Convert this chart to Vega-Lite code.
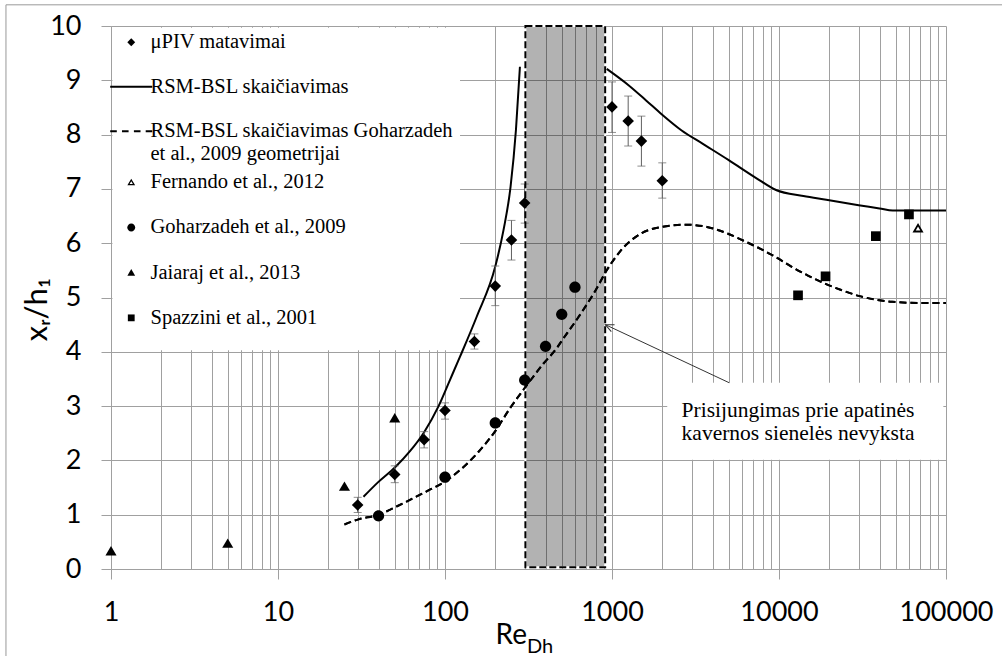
{
  "$schema": "https://vega.github.io/schema/vega-lite/v6.json",
  "width": 835,
  "height": 543,
  "autosize": {"type": "none"},
  "padding": {"left": 111, "top": 26, "right": 56, "bottom": 87},
  "background": "white",
  "config": {"view": {"stroke": null}, "font": "Lato"},
  "resolve": {"scale": {"shape": "independent"}, "legend": {"shape": "independent"}},
  "datasets": {
    "points": [
      {"series": "μPIV matavimai", "re": 30, "xr": 1.18, "lo": 1.04, "hi": 1.32},
      {"series": "μPIV matavimai", "re": 50, "xr": 1.74, "lo": 1.59, "hi": 1.90},
      {"series": "μPIV matavimai", "re": 75, "xr": 2.38, "lo": 2.23, "hi": 2.53},
      {"series": "μPIV matavimai", "re": 100, "xr": 2.92, "lo": 2.76, "hi": 3.06},
      {"series": "μPIV matavimai", "re": 150, "xr": 4.19, "lo": 4.05, "hi": 4.33},
      {"series": "μPIV matavimai", "re": 200, "xr": 5.21, "lo": 4.85, "hi": 5.58},
      {"series": "μPIV matavimai", "re": 250, "xr": 6.06, "lo": 5.69, "hi": 6.42},
      {"series": "μPIV matavimai", "re": 300, "xr": 6.74, "lo": 6.37, "hi": 7.09},
      {"series": "μPIV matavimai", "re": 1000, "xr": 8.51, "lo": 8.04, "hi": 8.97},
      {"series": "μPIV matavimai", "re": 1250, "xr": 8.25, "lo": 7.79, "hi": 8.71},
      {"series": "μPIV matavimai", "re": 1500, "xr": 7.88, "lo": 7.42, "hi": 8.34},
      {"series": "μPIV matavimai", "re": 2000, "xr": 7.15, "lo": 6.83, "hi": 7.48},
      {"series": "Goharzadeh et al., 2009", "re": 40, "xr": 0.98},
      {"series": "Goharzadeh et al., 2009", "re": 100, "xr": 1.69},
      {"series": "Goharzadeh et al., 2009", "re": 200, "xr": 2.69},
      {"series": "Goharzadeh et al., 2009", "re": 300, "xr": 3.48},
      {"series": "Goharzadeh et al., 2009", "re": 400, "xr": 4.10},
      {"series": "Goharzadeh et al., 2009", "re": 500, "xr": 4.69},
      {"series": "Goharzadeh et al., 2009", "re": 600, "xr": 5.19},
      {"series": "Jaiaraj et al., 2013", "re": 1, "xr": 0.33},
      {"series": "Jaiaraj et al., 2013", "re": 5, "xr": 0.47},
      {"series": "Jaiaraj et al., 2013", "re": 25, "xr": 1.52},
      {"series": "Jaiaraj et al., 2013", "re": 50, "xr": 2.78},
      {"series": "Spazzini et al., 2001", "re": 13000, "xr": 5.04},
      {"series": "Spazzini et al., 2001", "re": 19000, "xr": 5.39},
      {"series": "Spazzini et al., 2001", "re": 38000, "xr": 6.13},
      {"series": "Spazzini et al., 2001", "re": 60000, "xr": 6.53},
      {"series": "Fernando et al., 2012", "re": 68000, "xr": 6.28}
    ],
    "curves": [
      {"series": "solid", "seg": 1, "re": 32.5, "xr": 1.33},
      {"series": "solid", "seg": 1, "re": 39.8, "xr": 1.60},
      {"series": "solid", "seg": 1, "re": 50.1, "xr": 1.87},
      {"series": "solid", "seg": 1, "re": 61.7, "xr": 2.17},
      {"series": "solid", "seg": 1, "re": 75, "xr": 2.52},
      {"series": "solid", "seg": 1, "re": 91.2, "xr": 2.99},
      {"series": "solid", "seg": 1, "re": 107, "xr": 3.48},
      {"series": "solid", "seg": 1, "re": 123, "xr": 3.91},
      {"series": "solid", "seg": 1, "re": 155, "xr": 4.65},
      {"series": "solid", "seg": 1, "re": 200, "xr": 5.57},
      {"series": "solid", "seg": 1, "re": 224, "xr": 6.24},
      {"series": "solid", "seg": 1, "re": 247, "xr": 7.04},
      {"series": "solid", "seg": 1, "re": 266, "xr": 8.09},
      {"series": "solid", "seg": 1, "re": 281, "xr": 9.25},
      {"series": "solid", "seg": 2, "re": 930, "xr": 9.21},
      {"series": "solid", "seg": 2, "re": 1256, "xr": 8.91},
      {"series": "solid", "seg": 2, "re": 1600, "xr": 8.63},
      {"series": "solid", "seg": 2, "re": 1990, "xr": 8.37},
      {"series": "solid", "seg": 2, "re": 2600, "xr": 8.08},
      {"series": "solid", "seg": 2, "re": 3500, "xr": 7.83},
      {"series": "solid", "seg": 2, "re": 5000, "xr": 7.53},
      {"series": "solid", "seg": 2, "re": 7300, "xr": 7.20},
      {"series": "solid", "seg": 2, "re": 9600, "xr": 6.98},
      {"series": "solid", "seg": 2, "re": 14000, "xr": 6.87},
      {"series": "solid", "seg": 2, "re": 19200, "xr": 6.80},
      {"series": "solid", "seg": 2, "re": 30000, "xr": 6.70},
      {"series": "solid", "seg": 2, "re": 40000, "xr": 6.64},
      {"series": "solid", "seg": 2, "re": 48000, "xr": 6.60},
      {"series": "solid", "seg": 2, "re": 100000, "xr": 6.60},
      {"series": "dashed", "seg": 3, "re": 25, "xr": 0.82},
      {"series": "dashed", "seg": 3, "re": 30, "xr": 0.91},
      {"series": "dashed", "seg": 3, "re": 40, "xr": 1.00},
      {"series": "dashed", "seg": 3, "re": 52, "xr": 1.16},
      {"series": "dashed", "seg": 3, "re": 65, "xr": 1.31},
      {"series": "dashed", "seg": 3, "re": 81, "xr": 1.46},
      {"series": "dashed", "seg": 3, "re": 100, "xr": 1.61},
      {"series": "dashed", "seg": 3, "re": 126, "xr": 1.85},
      {"series": "dashed", "seg": 3, "re": 158, "xr": 2.15},
      {"series": "dashed", "seg": 3, "re": 200, "xr": 2.54},
      {"series": "dashed", "seg": 3, "re": 245, "xr": 2.96},
      {"series": "dashed", "seg": 3, "re": 310, "xr": 3.39},
      {"series": "dashed", "seg": 3, "re": 388, "xr": 3.78},
      {"series": "dashed", "seg": 3, "re": 465, "xr": 4.06},
      {"series": "dashed", "seg": 3, "re": 510, "xr": 4.24},
      {"series": "dashed", "seg": 3, "re": 630, "xr": 4.64},
      {"series": "dashed", "seg": 3, "re": 800, "xr": 5.14},
      {"series": "dashed", "seg": 3, "re": 930, "xr": 5.50},
      {"series": "dashed", "seg": 3, "re": 1125, "xr": 5.86},
      {"series": "dashed", "seg": 3, "re": 1475, "xr": 6.17},
      {"series": "dashed", "seg": 3, "re": 2000, "xr": 6.30},
      {"series": "dashed", "seg": 3, "re": 2800, "xr": 6.34},
      {"series": "dashed", "seg": 3, "re": 3700, "xr": 6.30},
      {"series": "dashed", "seg": 3, "re": 4900, "xr": 6.18},
      {"series": "dashed", "seg": 3, "re": 6100, "xr": 6.05},
      {"series": "dashed", "seg": 3, "re": 7700, "xr": 5.90},
      {"series": "dashed", "seg": 3, "re": 9600, "xr": 5.74},
      {"series": "dashed", "seg": 3, "re": 12000, "xr": 5.56},
      {"series": "dashed", "seg": 3, "re": 15000, "xr": 5.40},
      {"series": "dashed", "seg": 3, "re": 19000, "xr": 5.25},
      {"series": "dashed", "seg": 3, "re": 24000, "xr": 5.13},
      {"series": "dashed", "seg": 3, "re": 30000, "xr": 5.03},
      {"series": "dashed", "seg": 3, "re": 38000, "xr": 4.96},
      {"series": "dashed", "seg": 3, "re": 47600, "xr": 4.92},
      {"series": "dashed", "seg": 3, "re": 70000, "xr": 4.90},
      {"series": "dashed", "seg": 3, "re": 100000, "xr": 4.90}
    ]
  },
  "layer": [
    {
      "data": {"name": "curves"},
      "transform": [{"filter": "datum.series == 'dashed'"}],
      "mark": {"type": "line", "color": "black", "strokeWidth": 2, "strokeDash": [7, 4], "interpolate": "monotone"},
      "encoding": {
        "x": {
          "field": "re", "type": "quantitative",
          "scale": {"type": "log", "domain": [1, 100000]},
          "axis": {
            "title": "Re",
            "values": [1,2,3,4,5,6,7,8,9,10,20,30,40,50,60,70,80,90,100,200,300,400,500,600,700,800,900,1000,2000,3000,4000,5000,6000,7000,8000,9000,10000,20000,30000,40000,50000,60000,70000,80000,90000,100000],
            "labelExpr": "(datum.value==1||datum.value==10||datum.value==100||datum.value==1000||datum.value==10000||datum.value==100000) ? format(datum.value,'d') : ''",
            "tickOpacity": {"condition": {"test": "datum.value==1||datum.value==10||datum.value==100||datum.value==1000||datum.value==10000||datum.value==100000", "value": 1}, "value": 0},
            "grid": true, "gridColor": "#a0a0a0", "gridWidth": 1,
            "domainColor": "#a0a0a0", "domainWidth": 1,
            "tickColor": "#a0a0a0", "tickSize": 10, "tickWidth": 1,
            "labelFont": "Lato", "labelFontSize": 27, "labelColor": "black", "labelPadding": 20,
            "labelFlush": false, "labelOverlap": false, "labelBound": false,
            "titleFont": "Lato", "titleFontSize": 28, "titleFontWeight": "normal", "titleColor": "black",
            "titleX": 384, "titleY": 74, "titleAlign": "left", "titleBaseline": "alphabetic"
          }
        },
        "y": {
          "field": "xr", "type": "quantitative",
          "scale": {"domain": [0, 10]},
          "axis": {
            "title": "xᵣ/h₁",
            "values": [0,1,2,3,4,5,6,7,8,9,10],
            "grid": true, "gridColor": "#a0a0a0", "gridWidth": 1,
            "domainColor": "#a0a0a0", "domainWidth": 1,
            "tickColor": "#a0a0a0", "tickSize": 10, "tickWidth": 1,
            "labelFont": "Lato", "labelFontSize": 27, "labelColor": "black", "labelPadding": 20,
            "labelFlush": false, "labelOverlap": false,
            "titleFont": "Lato", "titleFontSize": 31, "titleFontWeight": "normal", "titleColor": "black",
            "titleX": -74, "titleY": 283, "titleAngle": -90, "titleAlign": "center", "titleBaseline": "middle"
          }
        }
      }
    },
    {
      "data": {"values": [{}]},
      "mark": {"type": "rect", "fill": "white"},
      "encoding": {
        "x": {"datum": 1.02, "type": "quantitative", "scale": {"type": "log", "domain": [1, 100000]}}, "x2": {"datum": 123},
        "y": {"datum": 4.03, "type": "quantitative", "scale": {"domain": [0, 10]}}, "y2": {"datum": 9.97}
      }
    },
    {
      "data": {"values": [{}]},
      "mark": {"type": "rect", "fill": "white"},
      "encoding": {
        "x": {"datum": 2142, "type": "quantitative", "scale": {"type": "log", "domain": [1, 100000]}}, "x2": {"datum": 96400},
        "y": {"datum": 2.01, "type": "quantitative", "scale": {"domain": [0, 10]}}, "y2": {"datum": 3.43}
      }
    },
    {
      "data": {"values": [{}]},
      "mark": {"type": "rect", "fill": "black", "fillOpacity": 0.3, "stroke": "white", "strokeWidth": 2},
      "encoding": {
        "x": {"datum": 303, "type": "quantitative", "scale": {"type": "log", "domain": [1, 100000]}}, "x2": {"datum": 910},
        "y": {"datum": 0.03, "type": "quantitative", "scale": {"domain": [0, 10]}}, "y2": {"datum": 10}
      }
    },
    {
      "data": {"name": "curves"},
      "transform": [{"filter": "datum.series == 'dashed'"}],
      "mark": {"type": "line", "color": "black", "strokeWidth": 2, "strokeDash": [7, 4], "interpolate": "monotone"},
      "encoding": {
        "x": {"field": "re", "type": "quantitative"},
        "y": {"field": "xr", "type": "quantitative"}
      }
    },
    {
      "data": {"name": "curves"},
      "transform": [{"filter": "datum.series == 'solid'"}],
      "mark": {"type": "line", "color": "black", "strokeWidth": 2, "interpolate": "monotone"},
      "encoding": {
        "x": {"field": "re", "type": "quantitative"},
        "y": {"field": "xr", "type": "quantitative"},
        "detail": {"field": "seg"}
      }
    },
    {
      "data": {"name": "points"},
      "transform": [{"filter": "datum.series == 'μPIV matavimai'"}],
      "mark": {"type": "errorbar", "ticks": {"size": 8, "color": "#606060"}, "rule": {"color": "#606060", "strokeWidth": 1}},
      "encoding": {
        "x": {"field": "re", "type": "quantitative"},
        "y": {"field": "lo", "type": "quantitative", "title": "xᵣ/h₁"},
        "y2": {"field": "hi"}
      }
    },
    {
      "data": {"name": "points"},
      "transform": [{"filter": "datum.series == 'μPIV matavimai'"}],
      "mark": {"type": "point", "size": 90, "filled": true, "color": "black", "opacity": 1},
      "encoding": {
        "x": {"field": "re", "type": "quantitative"},
        "y": {"field": "xr", "type": "quantitative"},
        "shape": {
          "field": "series", "type": "nominal",
          "scale": {
            "domain": ["μPIV matavimai", "RSM-BSL skaičiavimas", "RSM-BSL skaičiavimas Goharzadeh et al., 2009 geometrijai"],
            "range": [
              "M-6.5,0M6.5,0M0,-1.22L1.22,0L0,1.22L-1.22,0Z",
              "M-6.5,-0.31H6.5V0.31H-6.5Z",
              "M-6.5,-0.31H-4.46V0.31H-6.5ZM-2.86,-0.31H-0.82V0.31H-2.86ZM0.82,-0.31H2.86V0.31H0.82ZM4.46,-0.31H6.5V0.31H4.46Z"
            ]
          },
          "legend": {
            "title": null, "orient": "none", "legendX": 10, "legendY": 6, "padding": 0,
            "labelFont": "Times New Roman, Liberation Serif, DejaVu Serif, serif", "labelFontSize": 20.5, "labelColor": "black", "labelLimit": 600,
            "labelOffset": 9, "rowPadding": 23.5, "symbolSize": 42,
            "labelExpr": "datum.label == 'RSM-BSL skaičiavimas Goharzadeh et al., 2009 geometrijai' ? ['RSM-BSL skaičiavimas Goharzadeh', 'et al., 2009 geometrijai'] : datum.label"
          }
        }
      }
    },
    {
      "data": {"name": "points"},
      "transform": [{"filter": "datum.series != 'μPIV matavimai'"}],
      "mark": {"type": "point", "size": 85, "filled": true, "color": "black", "opacity": 1},
      "encoding": {
        "x": {"field": "re", "type": "quantitative"},
        "y": {"field": "xr", "type": "quantitative"},
        "shape": {
          "field": "series", "type": "nominal",
          "scale": {
            "domain": ["Fernando et al., 2012", "Goharzadeh et al., 2009", "Jaiaraj et al., 2013", "Spazzini et al., 2001"],
            "range": [
              "M-6.5,0M6.5,0M0,-1.1L1.2,0.95L-1.2,0.95ZM0,-0.3L-0.5,0.56L0.5,0.56Z",
              "M-6.5,0M6.5,0M1.22,0A1.22,1.22,0,1,1,-1.22,0A1.22,1.22,0,1,1,1.22,0Z",
              "M-6.5,0M6.5,0M0,-1.1L1.2,0.95L-1.2,0.95Z",
              "M-6.5,0M6.5,0M-1.05,-1.05H1.05V1.05H-1.05Z"
            ]
          },
          "legend": {
            "title": null, "orient": "none", "legendX": 10, "legendY": 146, "padding": 0,
            "labelFont": "Times New Roman, Liberation Serif, DejaVu Serif, serif", "labelFontSize": 20.5, "labelColor": "black", "labelLimit": 600,
            "labelOffset": 9, "rowPadding": 24.2, "symbolSize": 42
          }
        }
      }
    },
    {
      "data": {"values": [{}]},
      "mark": {"type": "rect", "fillOpacity": 0, "stroke": "black", "strokeWidth": 2, "strokeDash": [7, 3]},
      "encoding": {
        "x": {"datum": 303, "type": "quantitative", "scale": {"type": "log", "domain": [1, 100000]}}, "x2": {"datum": 910},
        "y": {"datum": 0.03, "type": "quantitative", "scale": {"domain": [0, 10]}}, "y2": {"datum": 10}
      }
    },
    {
      "data": {"values": [{}]},
      "mark": {"type": "rule", "color": "#333333", "strokeWidth": 1},
      "encoding": {
        "x": {"datum": 5035, "type": "quantitative", "scale": {"type": "log", "domain": [1, 100000]}}, "x2": {"datum": 912},
        "y": {"datum": 3.43, "type": "quantitative", "scale": {"domain": [0, 10]}}, "y2": {"datum": 4.50}
      }
    },
    {
      "data": {"values": [{}]},
      "mark": {"type": "point", "shape": "M-0.55,1.2L0,0L0.55,1.2", "size": 196, "angle": 295, "filled": false, "stroke": "#333333", "strokeWidth": 1, "opacity": 1},
      "encoding": {
        "x": {"datum": 912, "type": "quantitative", "scale": {"type": "log", "domain": [1, 100000]}},
        "y": {"datum": 4.50, "type": "quantitative", "scale": {"domain": [0, 10]}}
      }
    },
    {
      "data": {"values": [{}]},
      "mark": {"type": "text", "text": ["Prisijungimas prie apatinės", "kavernos sienelės nevyksta"], "font": "Times New Roman, Liberation Serif, DejaVu Serif, serif", "fontSize": 21.5, "lineHeight": 23, "align": "center", "baseline": "alphabetic", "color": "black"},
      "encoding": {
        "x": {"datum": 13000, "type": "quantitative", "scale": {"type": "log", "domain": [1, 100000]}},
        "y": {"datum": 2.80, "type": "quantitative", "scale": {"domain": [0, 10]}}
      }
    },
    {
      "data": {"values": [{}]},
      "mark": {"type": "text", "text": "Dh", "font": "Lato", "fontSize": 20, "align": "left", "baseline": "alphabetic", "color": "black"},
      "encoding": {
        "x": {"datum": 310, "type": "quantitative", "scale": {"type": "log", "domain": [1, 100000]}},
        "y": {"datum": -1.54, "type": "quantitative", "scale": {"domain": [0, 10]}}
      }
    },
    {
      "data": {"values": [{}]},
      "mark": {"type": "rule", "color": "#999999", "strokeWidth": 1},
      "encoding": {
        "x": {"datum": 0.235, "type": "quantitative", "scale": {"type": "log", "domain": [1, 100000]}},
        "y": {"datum": 10.39, "type": "quantitative", "scale": {"domain": [0, 10]}}, "y2": {"datum": -2.2}
      }
    },
    {
      "data": {"values": [{}]},
      "mark": {"type": "rule", "color": "#999999", "strokeWidth": 1},
      "encoding": {
        "x": {"datum": 0.235, "type": "quantitative", "scale": {"type": "log", "domain": [1, 100000]}}, "x2": {"datum": 300000},
        "y": {"datum": 10.39, "type": "quantitative", "scale": {"domain": [0, 10]}}
      }
    }
  ]
}
